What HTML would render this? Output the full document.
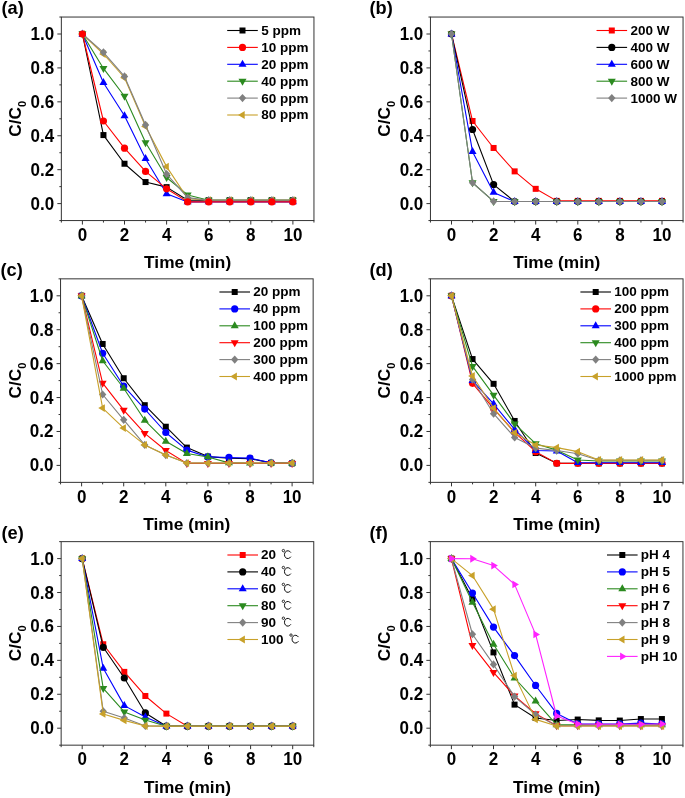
<!DOCTYPE html>
<html><head><meta charset="utf-8"><title>Figure</title>
<style>
html,body{margin:0;padding:0;background:#fff;}
body{width:685px;height:798px;overflow:hidden;}
svg{display:block;will-change:transform;}
text{font-family:"Liberation Sans", sans-serif;font-weight:bold;fill:#000;}
.tl{font-size:17px;}
.ti{font-size:17.3px;}
.lg{font-size:13.5px;}
.lab{font-size:19px;}
</style></head><body>
<svg width="685" height="798" viewBox="0 0 685 798">
<rect width="685" height="798" fill="#fff"/>
<rect x="61.35" y="17.04" width="252.6" height="203.52" fill="none" stroke="#333" stroke-width="1.0"/>
<path d="M61.35 220.56v2M82.4 220.56v4M103.45 220.56v2M124.5 220.56v4M145.55 220.56v2M166.6 220.56v4M187.65 220.56v2M208.7 220.56v4M229.75 220.56v2M250.8 220.56v4M271.85 220.56v2M292.9 220.56v4M313.95 220.56v2M61.35 220.56h-2M61.35 203.6h-4M61.35 186.64h-2M61.35 169.68h-4M61.35 152.72h-2M61.35 135.76h-4M61.35 118.8h-2M61.35 101.84h-4M61.35 84.88h-2M61.35 67.92h-4M61.35 50.96h-2M61.35 34h-4M61.35 17.04h-2" stroke="#333" stroke-width="1.0" fill="none"/>
<text transform="translate(82.4 240.76) scale(1 1.06)" text-anchor="middle" class="tl">0</text>
<text transform="translate(124.5 240.76) scale(1 1.06)" text-anchor="middle" class="tl">2</text>
<text transform="translate(166.6 240.76) scale(1 1.06)" text-anchor="middle" class="tl">4</text>
<text transform="translate(208.7 240.76) scale(1 1.06)" text-anchor="middle" class="tl">6</text>
<text transform="translate(250.8 240.76) scale(1 1.06)" text-anchor="middle" class="tl">8</text>
<text transform="translate(292.9 240.76) scale(1 1.06)" text-anchor="middle" class="tl">10</text>
<text transform="translate(54.15 209.6) scale(1 1.06)" text-anchor="end" class="tl">0.0</text>
<text transform="translate(54.15 175.68) scale(1 1.06)" text-anchor="end" class="tl">0.2</text>
<text transform="translate(54.15 141.76) scale(1 1.06)" text-anchor="end" class="tl">0.4</text>
<text transform="translate(54.15 107.84) scale(1 1.06)" text-anchor="end" class="tl">0.6</text>
<text transform="translate(54.15 73.92) scale(1 1.06)" text-anchor="end" class="tl">0.8</text>
<text transform="translate(54.15 40) scale(1 1.06)" text-anchor="end" class="tl">1.0</text>
<text x="187.65" y="267.96" text-anchor="middle" class="ti">Time (min)</text>
<text transform="translate(21.35 118.8) rotate(-90)" text-anchor="middle" class="ti">C/C<tspan font-size="11" dy="5">0</tspan></text>
<text transform="translate(1.5 13.8) scale(0.96 1)" class="lab">(a)</text>
<polyline points="82.4,34 103.45,135.08 124.5,163.74 145.55,182.06 166.6,187.15 187.65,200.21 208.7,200.21 229.75,200.21 250.8,200.21 271.85,200.21 292.9,200.21" fill="none" stroke="#000000" stroke-width="1.1" stroke-linejoin="round"/>
<rect x="79.4" y="31" width="6" height="6" fill="#000000"/>
<rect x="100.45" y="132.08" width="6" height="6" fill="#000000"/>
<rect x="121.5" y="160.74" width="6" height="6" fill="#000000"/>
<rect x="142.55" y="179.06" width="6" height="6" fill="#000000"/>
<rect x="163.6" y="184.15" width="6" height="6" fill="#000000"/>
<rect x="184.65" y="197.21" width="6" height="6" fill="#000000"/>
<rect x="205.7" y="197.21" width="6" height="6" fill="#000000"/>
<rect x="226.75" y="197.21" width="6" height="6" fill="#000000"/>
<rect x="247.8" y="197.21" width="6" height="6" fill="#000000"/>
<rect x="268.85" y="197.21" width="6" height="6" fill="#000000"/>
<rect x="289.9" y="197.21" width="6" height="6" fill="#000000"/>
<polyline points="82.4,34 103.45,82.68 124.5,115.75 145.55,158.66 166.6,193.76 187.65,201.9 208.7,201.9 229.75,201.9 250.8,201.9 271.85,201.9 292.9,201.9" fill="none" stroke="#0000ff" stroke-width="1.1" stroke-linejoin="round"/>
<polygon points="82.4,29.4 86.4,36.4 78.4,36.4" fill="#0000ff"/>
<polygon points="103.45,78.08 107.45,85.08 99.45,85.08" fill="#0000ff"/>
<polygon points="124.5,111.15 128.5,118.15 120.5,118.15" fill="#0000ff"/>
<polygon points="145.55,154.06 149.55,161.06 141.55,161.06" fill="#0000ff"/>
<polygon points="166.6,189.16 170.6,196.16 162.6,196.16" fill="#0000ff"/>
<polygon points="187.65,197.3 191.65,204.3 183.65,204.3" fill="#0000ff"/>
<polygon points="208.7,197.3 212.7,204.3 204.7,204.3" fill="#0000ff"/>
<polygon points="229.75,197.3 233.75,204.3 225.75,204.3" fill="#0000ff"/>
<polygon points="250.8,197.3 254.8,204.3 246.8,204.3" fill="#0000ff"/>
<polygon points="271.85,197.3 275.85,204.3 267.85,204.3" fill="#0000ff"/>
<polygon points="292.9,197.3 296.9,204.3 288.9,204.3" fill="#0000ff"/>
<polyline points="82.4,34 103.45,68.43 124.5,96.24 145.55,142.54 166.6,177.48 187.65,194.95 208.7,200.21 229.75,200.21 250.8,200.21 271.85,200.21 292.9,200.21" fill="none" stroke="#2b8a1f" stroke-width="1.1" stroke-linejoin="round"/>
<polygon points="82.4,38.6 86.4,31.6 78.4,31.6" fill="#2b8a1f"/>
<polygon points="103.45,73.03 107.45,66.03 99.45,66.03" fill="#2b8a1f"/>
<polygon points="124.5,100.84 128.5,93.84 120.5,93.84" fill="#2b8a1f"/>
<polygon points="145.55,147.14 149.55,140.14 141.55,140.14" fill="#2b8a1f"/>
<polygon points="166.6,182.08 170.6,175.08 162.6,175.08" fill="#2b8a1f"/>
<polygon points="187.65,199.55 191.65,192.55 183.65,192.55" fill="#2b8a1f"/>
<polygon points="208.7,204.81 212.7,197.81 204.7,197.81" fill="#2b8a1f"/>
<polygon points="229.75,204.81 233.75,197.81 225.75,197.81" fill="#2b8a1f"/>
<polygon points="250.8,204.81 254.8,197.81 246.8,197.81" fill="#2b8a1f"/>
<polygon points="271.85,204.81 275.85,197.81 267.85,197.81" fill="#2b8a1f"/>
<polygon points="292.9,204.81 296.9,197.81 288.9,197.81" fill="#2b8a1f"/>
<polyline points="82.4,34 103.45,54.01 124.5,77.76 145.55,126.43 166.6,166.63 187.65,198.51 208.7,200.21 229.75,200.21 250.8,200.21 271.85,200.21 292.9,200.21" fill="none" stroke="#c8a12a" stroke-width="1.1" stroke-linejoin="round"/>
<polygon points="78,34 84.6,30.1 84.6,37.9" fill="#c8a12a"/>
<polygon points="99.05,54.01 105.65,50.11 105.65,57.91" fill="#c8a12a"/>
<polygon points="120.1,77.76 126.7,73.86 126.7,81.66" fill="#c8a12a"/>
<polygon points="141.15,126.43 147.75,122.53 147.75,130.33" fill="#c8a12a"/>
<polygon points="162.2,166.63 168.8,162.73 168.8,170.53" fill="#c8a12a"/>
<polygon points="183.25,198.51 189.85,194.61 189.85,202.41" fill="#c8a12a"/>
<polygon points="204.3,200.21 210.9,196.31 210.9,204.11" fill="#c8a12a"/>
<polygon points="225.35,200.21 231.95,196.31 231.95,204.11" fill="#c8a12a"/>
<polygon points="246.4,200.21 253,196.31 253,204.11" fill="#c8a12a"/>
<polygon points="267.45,200.21 274.05,196.31 274.05,204.11" fill="#c8a12a"/>
<polygon points="288.5,200.21 295.1,196.31 295.1,204.11" fill="#c8a12a"/>
<polyline points="82.4,34 103.45,52.32 124.5,76.4 145.55,124.91 166.6,174.09 187.65,197.66 208.7,200.21 229.75,200.21 250.8,200.21 271.85,200.21 292.9,200.21" fill="none" stroke="#808080" stroke-width="1.1" stroke-linejoin="round"/>
<polygon points="82.4,29.9 86.1,34 82.4,38.1 78.7,34" fill="#808080"/>
<polygon points="103.45,48.22 107.15,52.32 103.45,56.42 99.75,52.32" fill="#808080"/>
<polygon points="124.5,72.3 128.2,76.4 124.5,80.5 120.8,76.4" fill="#808080"/>
<polygon points="145.55,120.81 149.25,124.91 145.55,129.01 141.85,124.91" fill="#808080"/>
<polygon points="166.6,169.99 170.3,174.09 166.6,178.19 162.9,174.09" fill="#808080"/>
<polygon points="187.65,193.56 191.35,197.66 187.65,201.76 183.95,197.66" fill="#808080"/>
<polygon points="208.7,196.11 212.4,200.21 208.7,204.31 205,200.21" fill="#808080"/>
<polygon points="229.75,196.11 233.45,200.21 229.75,204.31 226.05,200.21" fill="#808080"/>
<polygon points="250.8,196.11 254.5,200.21 250.8,204.31 247.1,200.21" fill="#808080"/>
<polygon points="271.85,196.11 275.55,200.21 271.85,204.31 268.15,200.21" fill="#808080"/>
<polygon points="292.9,196.11 296.6,200.21 292.9,204.31 289.2,200.21" fill="#808080"/>
<polyline points="82.4,34 103.45,121 124.5,148.14 145.55,171.38 166.6,188.84 187.65,201.9 208.7,201.9 229.75,201.9 250.8,201.9 271.85,201.9 292.9,201.9" fill="none" stroke="#ff0000" stroke-width="1.1" stroke-linejoin="round"/>
<circle cx="82.4" cy="34" r="3.6" fill="#ff0000"/>
<circle cx="103.45" cy="121" r="3.6" fill="#ff0000"/>
<circle cx="124.5" cy="148.14" r="3.6" fill="#ff0000"/>
<circle cx="145.55" cy="171.38" r="3.6" fill="#ff0000"/>
<circle cx="166.6" cy="188.84" r="3.6" fill="#ff0000"/>
<circle cx="187.65" cy="201.9" r="3.6" fill="#ff0000"/>
<circle cx="208.7" cy="201.9" r="3.6" fill="#ff0000"/>
<circle cx="229.75" cy="201.9" r="3.6" fill="#ff0000"/>
<circle cx="250.8" cy="201.9" r="3.6" fill="#ff0000"/>
<circle cx="271.85" cy="201.9" r="3.6" fill="#ff0000"/>
<circle cx="292.9" cy="201.9" r="3.6" fill="#ff0000"/>
<path d="M227.2 30.5h30.6" stroke="#000000" stroke-width="1.1"/>
<rect x="239.5" y="27.5" width="6" height="6" fill="#000000"/>
<text x="261.2" y="34.9" class="lg">5 ppm</text>
<path d="M227.2 47.4h30.6" stroke="#ff0000" stroke-width="1.1"/>
<circle cx="242.5" cy="47.4" r="3.6" fill="#ff0000"/>
<text x="261.2" y="51.8" class="lg">10 ppm</text>
<path d="M227.2 64.3h30.6" stroke="#0000ff" stroke-width="1.1"/>
<polygon points="242.5,59.7 246.5,66.7 238.5,66.7" fill="#0000ff"/>
<text x="261.2" y="68.7" class="lg">20 ppm</text>
<path d="M227.2 81.2h30.6" stroke="#2b8a1f" stroke-width="1.1"/>
<polygon points="242.5,85.8 246.5,78.8 238.5,78.8" fill="#2b8a1f"/>
<text x="261.2" y="85.6" class="lg">40 ppm</text>
<path d="M227.2 98.1h30.6" stroke="#808080" stroke-width="1.1"/>
<polygon points="242.5,94 246.2,98.1 242.5,102.2 238.8,98.1" fill="#808080"/>
<text x="261.2" y="102.5" class="lg">60 ppm</text>
<path d="M227.2 115h30.6" stroke="#c8a12a" stroke-width="1.1"/>
<polygon points="238.1,115 244.7,111.1 244.7,118.9" fill="#c8a12a"/>
<text x="261.2" y="119.4" class="lg">80 ppm</text>
<rect x="430.45" y="17.04" width="252.6" height="203.52" fill="none" stroke="#333" stroke-width="1.0"/>
<path d="M430.45 220.56v2M451.5 220.56v4M472.55 220.56v2M493.6 220.56v4M514.65 220.56v2M535.7 220.56v4M556.75 220.56v2M577.8 220.56v4M598.85 220.56v2M619.9 220.56v4M640.95 220.56v2M662 220.56v4M683.05 220.56v2M430.45 220.56h-2M430.45 203.6h-4M430.45 186.64h-2M430.45 169.68h-4M430.45 152.72h-2M430.45 135.76h-4M430.45 118.8h-2M430.45 101.84h-4M430.45 84.88h-2M430.45 67.92h-4M430.45 50.96h-2M430.45 34h-4M430.45 17.04h-2" stroke="#333" stroke-width="1.0" fill="none"/>
<text transform="translate(451.5 240.76) scale(1 1.06)" text-anchor="middle" class="tl">0</text>
<text transform="translate(493.6 240.76) scale(1 1.06)" text-anchor="middle" class="tl">2</text>
<text transform="translate(535.7 240.76) scale(1 1.06)" text-anchor="middle" class="tl">4</text>
<text transform="translate(577.8 240.76) scale(1 1.06)" text-anchor="middle" class="tl">6</text>
<text transform="translate(619.9 240.76) scale(1 1.06)" text-anchor="middle" class="tl">8</text>
<text transform="translate(662 240.76) scale(1 1.06)" text-anchor="middle" class="tl">10</text>
<text transform="translate(423.25 209.6) scale(1 1.06)" text-anchor="end" class="tl">0.0</text>
<text transform="translate(423.25 175.68) scale(1 1.06)" text-anchor="end" class="tl">0.2</text>
<text transform="translate(423.25 141.76) scale(1 1.06)" text-anchor="end" class="tl">0.4</text>
<text transform="translate(423.25 107.84) scale(1 1.06)" text-anchor="end" class="tl">0.6</text>
<text transform="translate(423.25 73.92) scale(1 1.06)" text-anchor="end" class="tl">0.8</text>
<text transform="translate(423.25 40) scale(1 1.06)" text-anchor="end" class="tl">1.0</text>
<text x="556.75" y="267.96" text-anchor="middle" class="ti">Time (min)</text>
<text transform="translate(390.45 118.8) rotate(-90)" text-anchor="middle" class="ti">C/C<tspan font-size="11" dy="5">0</tspan></text>
<text transform="translate(369.5 13.8) scale(0.96 1)" class="lab">(b)</text>
<polyline points="451.5,34 472.55,121 493.6,147.97 514.65,171.38 535.7,188.84 556.75,200.89 577.8,200.89 598.85,200.89 619.9,200.89 640.95,200.89 662,200.89" fill="none" stroke="#ff0000" stroke-width="1.1" stroke-linejoin="round"/>
<rect x="448.5" y="31" width="6" height="6" fill="#ff0000"/>
<rect x="469.55" y="118" width="6" height="6" fill="#ff0000"/>
<rect x="490.6" y="144.97" width="6" height="6" fill="#ff0000"/>
<rect x="511.65" y="168.38" width="6" height="6" fill="#ff0000"/>
<rect x="532.7" y="185.84" width="6" height="6" fill="#ff0000"/>
<rect x="553.75" y="197.89" width="6" height="6" fill="#ff0000"/>
<rect x="574.8" y="197.89" width="6" height="6" fill="#ff0000"/>
<rect x="595.85" y="197.89" width="6" height="6" fill="#ff0000"/>
<rect x="616.9" y="197.89" width="6" height="6" fill="#ff0000"/>
<rect x="637.95" y="197.89" width="6" height="6" fill="#ff0000"/>
<rect x="659" y="197.89" width="6" height="6" fill="#ff0000"/>
<polyline points="451.5,34 472.55,129.48 493.6,184.6 514.65,201.56 535.7,201.56 556.75,201.56 577.8,201.56 598.85,201.56 619.9,201.56 640.95,201.56 662,201.56" fill="none" stroke="#000000" stroke-width="1.1" stroke-linejoin="round"/>
<circle cx="451.5" cy="34" r="3.6" fill="#000000"/>
<circle cx="472.55" cy="129.48" r="3.6" fill="#000000"/>
<circle cx="493.6" cy="184.6" r="3.6" fill="#000000"/>
<circle cx="514.65" cy="201.56" r="3.6" fill="#000000"/>
<circle cx="535.7" cy="201.56" r="3.6" fill="#000000"/>
<circle cx="556.75" cy="201.56" r="3.6" fill="#000000"/>
<circle cx="577.8" cy="201.56" r="3.6" fill="#000000"/>
<circle cx="598.85" cy="201.56" r="3.6" fill="#000000"/>
<circle cx="619.9" cy="201.56" r="3.6" fill="#000000"/>
<circle cx="640.95" cy="201.56" r="3.6" fill="#000000"/>
<circle cx="662" cy="201.56" r="3.6" fill="#000000"/>
<polyline points="451.5,34 472.55,151.7 493.6,192.41 514.65,201.56 535.7,201.56 556.75,201.56 577.8,201.56 598.85,201.56 619.9,201.56 640.95,201.56 662,201.56" fill="none" stroke="#0000ff" stroke-width="1.1" stroke-linejoin="round"/>
<polygon points="451.5,29.4 455.5,36.4 447.5,36.4" fill="#0000ff"/>
<polygon points="472.55,147.1 476.55,154.1 468.55,154.1" fill="#0000ff"/>
<polygon points="493.6,187.81 497.6,194.81 489.6,194.81" fill="#0000ff"/>
<polygon points="514.65,196.96 518.65,203.96 510.65,203.96" fill="#0000ff"/>
<polygon points="535.7,196.96 539.7,203.96 531.7,203.96" fill="#0000ff"/>
<polygon points="556.75,196.96 560.75,203.96 552.75,203.96" fill="#0000ff"/>
<polygon points="577.8,196.96 581.8,203.96 573.8,203.96" fill="#0000ff"/>
<polygon points="598.85,196.96 602.85,203.96 594.85,203.96" fill="#0000ff"/>
<polygon points="619.9,196.96 623.9,203.96 615.9,203.96" fill="#0000ff"/>
<polygon points="640.95,196.96 644.95,203.96 636.95,203.96" fill="#0000ff"/>
<polygon points="662,196.96 666,203.96 658,203.96" fill="#0000ff"/>
<polyline points="451.5,34 472.55,182.74 493.6,201.4 514.65,201.56 535.7,201.56 556.75,201.56 577.8,201.56 598.85,201.56 619.9,201.56 640.95,201.56 662,201.56" fill="none" stroke="#2b8a1f" stroke-width="1.1" stroke-linejoin="round"/>
<polygon points="451.5,38.6 455.5,31.6 447.5,31.6" fill="#2b8a1f"/>
<polygon points="472.55,187.34 476.55,180.34 468.55,180.34" fill="#2b8a1f"/>
<polygon points="493.6,206 497.6,199 489.6,199" fill="#2b8a1f"/>
<polygon points="514.65,206.16 518.65,199.16 510.65,199.16" fill="#2b8a1f"/>
<polygon points="535.7,206.16 539.7,199.16 531.7,199.16" fill="#2b8a1f"/>
<polygon points="556.75,206.16 560.75,199.16 552.75,199.16" fill="#2b8a1f"/>
<polygon points="577.8,206.16 581.8,199.16 573.8,199.16" fill="#2b8a1f"/>
<polygon points="598.85,206.16 602.85,199.16 594.85,199.16" fill="#2b8a1f"/>
<polygon points="619.9,206.16 623.9,199.16 615.9,199.16" fill="#2b8a1f"/>
<polygon points="640.95,206.16 644.95,199.16 636.95,199.16" fill="#2b8a1f"/>
<polygon points="662,206.16 666,199.16 658,199.16" fill="#2b8a1f"/>
<polyline points="451.5,34 472.55,182.74 493.6,201.4 514.65,201.56 535.7,201.56 556.75,201.56 577.8,201.56 598.85,201.56 619.9,201.56 640.95,201.56 662,201.56" fill="none" stroke="#808080" stroke-width="1.1" stroke-linejoin="round"/>
<polygon points="451.5,29.9 455.2,34 451.5,38.1 447.8,34" fill="#808080"/>
<polygon points="472.55,178.64 476.25,182.74 472.55,186.84 468.85,182.74" fill="#808080"/>
<polygon points="493.6,197.3 497.3,201.4 493.6,205.5 489.9,201.4" fill="#808080"/>
<polygon points="514.65,197.46 518.35,201.56 514.65,205.66 510.95,201.56" fill="#808080"/>
<polygon points="535.7,197.46 539.4,201.56 535.7,205.66 532,201.56" fill="#808080"/>
<polygon points="556.75,197.46 560.45,201.56 556.75,205.66 553.05,201.56" fill="#808080"/>
<polygon points="577.8,197.46 581.5,201.56 577.8,205.66 574.1,201.56" fill="#808080"/>
<polygon points="598.85,197.46 602.55,201.56 598.85,205.66 595.15,201.56" fill="#808080"/>
<polygon points="619.9,197.46 623.6,201.56 619.9,205.66 616.2,201.56" fill="#808080"/>
<polygon points="640.95,197.46 644.65,201.56 640.95,205.66 637.25,201.56" fill="#808080"/>
<polygon points="662,197.46 665.7,201.56 662,205.66 658.3,201.56" fill="#808080"/>
<path d="M596.5 30.5h30.6" stroke="#ff0000" stroke-width="1.1"/>
<rect x="608.8" y="27.5" width="6" height="6" fill="#ff0000"/>
<text x="630.4" y="34.9" class="lg">200 W</text>
<path d="M596.5 47.4h30.6" stroke="#000000" stroke-width="1.1"/>
<circle cx="611.8" cy="47.4" r="3.6" fill="#000000"/>
<text x="630.4" y="51.8" class="lg">400 W</text>
<path d="M596.5 64.3h30.6" stroke="#0000ff" stroke-width="1.1"/>
<polygon points="611.8,59.7 615.8,66.7 607.8,66.7" fill="#0000ff"/>
<text x="630.4" y="68.7" class="lg">600 W</text>
<path d="M596.5 81.2h30.6" stroke="#2b8a1f" stroke-width="1.1"/>
<polygon points="611.8,85.8 615.8,78.8 607.8,78.8" fill="#2b8a1f"/>
<text x="630.4" y="85.6" class="lg">800 W</text>
<path d="M596.5 98.1h30.6" stroke="#808080" stroke-width="1.1"/>
<polygon points="611.8,94 615.5,98.1 611.8,102.2 608.1,98.1" fill="#808080"/>
<text x="630.4" y="102.5" class="lg">1000 W</text>
<rect x="60.55" y="278.84" width="252.6" height="203.52" fill="none" stroke="#333" stroke-width="1.0"/>
<path d="M60.55 482.36v2M81.6 482.36v4M102.65 482.36v2M123.7 482.36v4M144.75 482.36v2M165.8 482.36v4M186.85 482.36v2M207.9 482.36v4M228.95 482.36v2M250 482.36v4M271.05 482.36v2M292.1 482.36v4M313.15 482.36v2M60.55 482.36h-2M60.55 465.4h-4M60.55 448.44h-2M60.55 431.48h-4M60.55 414.52h-2M60.55 397.56h-4M60.55 380.6h-2M60.55 363.64h-4M60.55 346.68h-2M60.55 329.72h-4M60.55 312.76h-2M60.55 295.8h-4M60.55 278.84h-2" stroke="#333" stroke-width="1.0" fill="none"/>
<text transform="translate(81.6 502.56) scale(1 1.06)" text-anchor="middle" class="tl">0</text>
<text transform="translate(123.7 502.56) scale(1 1.06)" text-anchor="middle" class="tl">2</text>
<text transform="translate(165.8 502.56) scale(1 1.06)" text-anchor="middle" class="tl">4</text>
<text transform="translate(207.9 502.56) scale(1 1.06)" text-anchor="middle" class="tl">6</text>
<text transform="translate(250 502.56) scale(1 1.06)" text-anchor="middle" class="tl">8</text>
<text transform="translate(292.1 502.56) scale(1 1.06)" text-anchor="middle" class="tl">10</text>
<text transform="translate(53.35 471.4) scale(1 1.06)" text-anchor="end" class="tl">0.0</text>
<text transform="translate(53.35 437.48) scale(1 1.06)" text-anchor="end" class="tl">0.2</text>
<text transform="translate(53.35 403.56) scale(1 1.06)" text-anchor="end" class="tl">0.4</text>
<text transform="translate(53.35 369.64) scale(1 1.06)" text-anchor="end" class="tl">0.6</text>
<text transform="translate(53.35 335.72) scale(1 1.06)" text-anchor="end" class="tl">0.8</text>
<text transform="translate(53.35 301.8) scale(1 1.06)" text-anchor="end" class="tl">1.0</text>
<text x="186.85" y="529.76" text-anchor="middle" class="ti">Time (min)</text>
<text transform="translate(20.55 380.6) rotate(-90)" text-anchor="middle" class="ti">C/C<tspan font-size="11" dy="5">0</tspan></text>
<text transform="translate(0.5 276.3) scale(0.96 1)" class="lab">(c)</text>
<polyline points="81.6,295.8 102.65,343.97 123.7,378.23 144.75,405.19 165.8,426.73 186.85,447.59 207.9,456.58 228.95,458.28 250,458.62 271.05,462.86 292.1,463.36" fill="none" stroke="#000000" stroke-width="1.1" stroke-linejoin="round"/>
<rect x="78.6" y="292.8" width="6" height="6" fill="#000000"/>
<rect x="99.65" y="340.97" width="6" height="6" fill="#000000"/>
<rect x="120.7" y="375.23" width="6" height="6" fill="#000000"/>
<rect x="141.75" y="402.19" width="6" height="6" fill="#000000"/>
<rect x="162.8" y="423.73" width="6" height="6" fill="#000000"/>
<rect x="183.85" y="444.59" width="6" height="6" fill="#000000"/>
<rect x="204.9" y="453.58" width="6" height="6" fill="#000000"/>
<rect x="225.95" y="455.28" width="6" height="6" fill="#000000"/>
<rect x="247" y="455.62" width="6" height="6" fill="#000000"/>
<rect x="268.05" y="459.86" width="6" height="6" fill="#000000"/>
<rect x="289.1" y="460.36" width="6" height="6" fill="#000000"/>
<polyline points="81.6,295.8 102.65,353.29 123.7,386.2 144.75,409.09 165.8,432.5 186.85,450.14 207.9,456.92 228.95,457.43 250,458.11 271.05,462.86 292.1,463.36" fill="none" stroke="#0000ff" stroke-width="1.1" stroke-linejoin="round"/>
<circle cx="81.6" cy="295.8" r="3.6" fill="#0000ff"/>
<circle cx="102.65" cy="353.29" r="3.6" fill="#0000ff"/>
<circle cx="123.7" cy="386.2" r="3.6" fill="#0000ff"/>
<circle cx="144.75" cy="409.09" r="3.6" fill="#0000ff"/>
<circle cx="165.8" cy="432.5" r="3.6" fill="#0000ff"/>
<circle cx="186.85" cy="450.14" r="3.6" fill="#0000ff"/>
<circle cx="207.9" cy="456.92" r="3.6" fill="#0000ff"/>
<circle cx="228.95" cy="457.43" r="3.6" fill="#0000ff"/>
<circle cx="250" cy="458.11" r="3.6" fill="#0000ff"/>
<circle cx="271.05" cy="462.86" r="3.6" fill="#0000ff"/>
<circle cx="292.1" cy="463.36" r="3.6" fill="#0000ff"/>
<polyline points="81.6,295.8 102.65,360.76 123.7,388.23 144.75,420.29 165.8,441.32 186.85,453.53 207.9,456.92 228.95,462.86 250,463.2 271.05,463.2 292.1,463.36" fill="none" stroke="#2b8a1f" stroke-width="1.1" stroke-linejoin="round"/>
<polygon points="81.6,291.2 85.6,298.2 77.6,298.2" fill="#2b8a1f"/>
<polygon points="102.65,356.16 106.65,363.16 98.65,363.16" fill="#2b8a1f"/>
<polygon points="123.7,383.63 127.7,390.63 119.7,390.63" fill="#2b8a1f"/>
<polygon points="144.75,415.69 148.75,422.69 140.75,422.69" fill="#2b8a1f"/>
<polygon points="165.8,436.72 169.8,443.72 161.8,443.72" fill="#2b8a1f"/>
<polygon points="186.85,448.93 190.85,455.93 182.85,455.93" fill="#2b8a1f"/>
<polygon points="207.9,452.32 211.9,459.32 203.9,459.32" fill="#2b8a1f"/>
<polygon points="228.95,458.26 232.95,465.26 224.95,465.26" fill="#2b8a1f"/>
<polygon points="250,458.6 254,465.6 246,465.6" fill="#2b8a1f"/>
<polygon points="271.05,458.6 275.05,465.6 267.05,465.6" fill="#2b8a1f"/>
<polygon points="292.1,458.76 296.1,465.76 288.1,465.76" fill="#2b8a1f"/>
<polyline points="81.6,295.8 102.65,383.14 123.7,410.11 144.75,433.35 165.8,450.48 186.85,463.36 207.9,463.36 228.95,463.36 250,463.36 271.05,463.36 292.1,463.36" fill="none" stroke="#ff0000" stroke-width="1.1" stroke-linejoin="round"/>
<polygon points="81.6,300.4 85.6,293.4 77.6,293.4" fill="#ff0000"/>
<polygon points="102.65,387.74 106.65,380.74 98.65,380.74" fill="#ff0000"/>
<polygon points="123.7,414.71 127.7,407.71 119.7,407.71" fill="#ff0000"/>
<polygon points="144.75,437.95 148.75,430.95 140.75,430.95" fill="#ff0000"/>
<polygon points="165.8,455.08 169.8,448.08 161.8,448.08" fill="#ff0000"/>
<polygon points="186.85,467.96 190.85,460.96 182.85,460.96" fill="#ff0000"/>
<polygon points="207.9,467.96 211.9,460.96 203.9,460.96" fill="#ff0000"/>
<polygon points="228.95,467.96 232.95,460.96 224.95,460.96" fill="#ff0000"/>
<polygon points="250,467.96 254,460.96 246,460.96" fill="#ff0000"/>
<polygon points="271.05,467.96 275.05,460.96 267.05,460.96" fill="#ff0000"/>
<polygon points="292.1,467.96 296.1,460.96 288.1,460.96" fill="#ff0000"/>
<polyline points="81.6,295.8 102.65,394.51 123.7,419.78 144.75,444.88 165.8,455.05 186.85,463.03 207.9,463.03 228.95,463.03 250,463.03 271.05,463.03 292.1,463.03" fill="none" stroke="#808080" stroke-width="1.1" stroke-linejoin="round"/>
<polygon points="81.6,291.7 85.3,295.8 81.6,299.9 77.9,295.8" fill="#808080"/>
<polygon points="102.65,390.41 106.35,394.51 102.65,398.61 98.95,394.51" fill="#808080"/>
<polygon points="123.7,415.68 127.4,419.78 123.7,423.88 120,419.78" fill="#808080"/>
<polygon points="144.75,440.78 148.45,444.88 144.75,448.98 141.05,444.88" fill="#808080"/>
<polygon points="165.8,450.95 169.5,455.05 165.8,459.15 162.1,455.05" fill="#808080"/>
<polygon points="186.85,458.93 190.55,463.03 186.85,467.13 183.15,463.03" fill="#808080"/>
<polygon points="207.9,458.93 211.6,463.03 207.9,467.13 204.2,463.03" fill="#808080"/>
<polygon points="228.95,458.93 232.65,463.03 228.95,467.13 225.25,463.03" fill="#808080"/>
<polygon points="250,458.93 253.7,463.03 250,467.13 246.3,463.03" fill="#808080"/>
<polygon points="271.05,458.93 274.75,463.03 271.05,467.13 267.35,463.03" fill="#808080"/>
<polygon points="292.1,458.93 295.8,463.03 292.1,467.13 288.4,463.03" fill="#808080"/>
<polyline points="81.6,295.8 102.65,408.08 123.7,428.09 144.75,444.88 165.8,455.05 186.85,463.03 207.9,463.03 228.95,463.03 250,463.03 271.05,463.03 292.1,463.03" fill="none" stroke="#c8a12a" stroke-width="1.1" stroke-linejoin="round"/>
<polygon points="77.2,295.8 83.8,291.9 83.8,299.7" fill="#c8a12a"/>
<polygon points="98.25,408.08 104.85,404.18 104.85,411.98" fill="#c8a12a"/>
<polygon points="119.3,428.09 125.9,424.19 125.9,431.99" fill="#c8a12a"/>
<polygon points="140.35,444.88 146.95,440.98 146.95,448.78" fill="#c8a12a"/>
<polygon points="161.4,455.05 168,451.15 168,458.95" fill="#c8a12a"/>
<polygon points="182.45,463.03 189.05,459.13 189.05,466.93" fill="#c8a12a"/>
<polygon points="203.5,463.03 210.1,459.13 210.1,466.93" fill="#c8a12a"/>
<polygon points="224.55,463.03 231.15,459.13 231.15,466.93" fill="#c8a12a"/>
<polygon points="245.6,463.03 252.2,459.13 252.2,466.93" fill="#c8a12a"/>
<polygon points="266.65,463.03 273.25,459.13 273.25,466.93" fill="#c8a12a"/>
<polygon points="287.7,463.03 294.3,459.13 294.3,466.93" fill="#c8a12a"/>
<path d="M219.4 292h30.6" stroke="#000000" stroke-width="1.1"/>
<rect x="231.7" y="289" width="6" height="6" fill="#000000"/>
<text x="253.2" y="296.4" class="lg">20 ppm</text>
<path d="M219.4 308.9h30.6" stroke="#0000ff" stroke-width="1.1"/>
<circle cx="234.7" cy="308.9" r="3.6" fill="#0000ff"/>
<text x="253.2" y="313.3" class="lg">40 ppm</text>
<path d="M219.4 325.8h30.6" stroke="#2b8a1f" stroke-width="1.1"/>
<polygon points="234.7,321.2 238.7,328.2 230.7,328.2" fill="#2b8a1f"/>
<text x="253.2" y="330.2" class="lg">100 ppm</text>
<path d="M219.4 342.7h30.6" stroke="#ff0000" stroke-width="1.1"/>
<polygon points="234.7,347.3 238.7,340.3 230.7,340.3" fill="#ff0000"/>
<text x="253.2" y="347.1" class="lg">200 ppm</text>
<path d="M219.4 359.6h30.6" stroke="#808080" stroke-width="1.1"/>
<polygon points="234.7,355.5 238.4,359.6 234.7,363.7 231,359.6" fill="#808080"/>
<text x="253.2" y="364" class="lg">300 ppm</text>
<path d="M219.4 376.5h30.6" stroke="#c8a12a" stroke-width="1.1"/>
<polygon points="230.3,376.5 236.9,372.6 236.9,380.4" fill="#c8a12a"/>
<text x="253.2" y="380.9" class="lg">400 ppm</text>
<rect x="430.45" y="278.84" width="252.6" height="203.52" fill="none" stroke="#333" stroke-width="1.0"/>
<path d="M430.45 482.36v2M451.5 482.36v4M472.55 482.36v2M493.6 482.36v4M514.65 482.36v2M535.7 482.36v4M556.75 482.36v2M577.8 482.36v4M598.85 482.36v2M619.9 482.36v4M640.95 482.36v2M662 482.36v4M683.05 482.36v2M430.45 482.36h-2M430.45 465.4h-4M430.45 448.44h-2M430.45 431.48h-4M430.45 414.52h-2M430.45 397.56h-4M430.45 380.6h-2M430.45 363.64h-4M430.45 346.68h-2M430.45 329.72h-4M430.45 312.76h-2M430.45 295.8h-4M430.45 278.84h-2" stroke="#333" stroke-width="1.0" fill="none"/>
<text transform="translate(451.5 502.56) scale(1 1.06)" text-anchor="middle" class="tl">0</text>
<text transform="translate(493.6 502.56) scale(1 1.06)" text-anchor="middle" class="tl">2</text>
<text transform="translate(535.7 502.56) scale(1 1.06)" text-anchor="middle" class="tl">4</text>
<text transform="translate(577.8 502.56) scale(1 1.06)" text-anchor="middle" class="tl">6</text>
<text transform="translate(619.9 502.56) scale(1 1.06)" text-anchor="middle" class="tl">8</text>
<text transform="translate(662 502.56) scale(1 1.06)" text-anchor="middle" class="tl">10</text>
<text transform="translate(423.25 471.4) scale(1 1.06)" text-anchor="end" class="tl">0.0</text>
<text transform="translate(423.25 437.48) scale(1 1.06)" text-anchor="end" class="tl">0.2</text>
<text transform="translate(423.25 403.56) scale(1 1.06)" text-anchor="end" class="tl">0.4</text>
<text transform="translate(423.25 369.64) scale(1 1.06)" text-anchor="end" class="tl">0.6</text>
<text transform="translate(423.25 335.72) scale(1 1.06)" text-anchor="end" class="tl">0.8</text>
<text transform="translate(423.25 301.8) scale(1 1.06)" text-anchor="end" class="tl">1.0</text>
<text x="556.75" y="529.76" text-anchor="middle" class="ti">Time (min)</text>
<text transform="translate(390.45 380.6) rotate(-90)" text-anchor="middle" class="ti">C/C<tspan font-size="11" dy="5">0</tspan></text>
<text transform="translate(369.5 276.3) scale(0.96 1)" class="lab">(d)</text>
<polyline points="451.5,295.8 472.55,359.06 493.6,383.82 514.65,420.96 535.7,453.02 556.75,463.36 577.8,463.36 598.85,463.36 619.9,463.36 640.95,463.36 662,463.36" fill="none" stroke="#000000" stroke-width="1.1" stroke-linejoin="round"/>
<rect x="448.5" y="292.8" width="6" height="6" fill="#000000"/>
<rect x="469.55" y="356.06" width="6" height="6" fill="#000000"/>
<rect x="490.6" y="380.82" width="6" height="6" fill="#000000"/>
<rect x="511.65" y="417.96" width="6" height="6" fill="#000000"/>
<rect x="532.7" y="450.02" width="6" height="6" fill="#000000"/>
<rect x="553.75" y="460.36" width="6" height="6" fill="#000000"/>
<rect x="574.8" y="460.36" width="6" height="6" fill="#000000"/>
<rect x="595.85" y="460.36" width="6" height="6" fill="#000000"/>
<rect x="616.9" y="460.36" width="6" height="6" fill="#000000"/>
<rect x="637.95" y="460.36" width="6" height="6" fill="#000000"/>
<rect x="659" y="460.36" width="6" height="6" fill="#000000"/>
<polyline points="451.5,295.8 472.55,383.31 493.6,408.58 514.65,432.33 535.7,451.66 556.75,463.36 577.8,463.36 598.85,463.36 619.9,463.36 640.95,463.36 662,463.36" fill="none" stroke="#ff0000" stroke-width="1.1" stroke-linejoin="round"/>
<circle cx="451.5" cy="295.8" r="3.6" fill="#ff0000"/>
<circle cx="472.55" cy="383.31" r="3.6" fill="#ff0000"/>
<circle cx="493.6" cy="408.58" r="3.6" fill="#ff0000"/>
<circle cx="514.65" cy="432.33" r="3.6" fill="#ff0000"/>
<circle cx="535.7" cy="451.66" r="3.6" fill="#ff0000"/>
<circle cx="556.75" cy="463.36" r="3.6" fill="#ff0000"/>
<circle cx="577.8" cy="463.36" r="3.6" fill="#ff0000"/>
<circle cx="598.85" cy="463.36" r="3.6" fill="#ff0000"/>
<circle cx="619.9" cy="463.36" r="3.6" fill="#ff0000"/>
<circle cx="640.95" cy="463.36" r="3.6" fill="#ff0000"/>
<circle cx="662" cy="463.36" r="3.6" fill="#ff0000"/>
<polyline points="451.5,295.8 472.55,380.6 493.6,403.84 514.65,429.44 535.7,450.48 556.75,450.98 577.8,462.69 598.85,462.69 619.9,462.69 640.95,462.69 662,462.69" fill="none" stroke="#0000ff" stroke-width="1.1" stroke-linejoin="round"/>
<polygon points="451.5,291.2 455.5,298.2 447.5,298.2" fill="#0000ff"/>
<polygon points="472.55,376 476.55,383 468.55,383" fill="#0000ff"/>
<polygon points="493.6,399.24 497.6,406.24 489.6,406.24" fill="#0000ff"/>
<polygon points="514.65,424.84 518.65,431.84 510.65,431.84" fill="#0000ff"/>
<polygon points="535.7,445.88 539.7,452.88 531.7,452.88" fill="#0000ff"/>
<polygon points="556.75,446.38 560.75,453.38 552.75,453.38" fill="#0000ff"/>
<polygon points="577.8,458.09 581.8,465.09 573.8,465.09" fill="#0000ff"/>
<polygon points="598.85,458.09 602.85,465.09 594.85,465.09" fill="#0000ff"/>
<polygon points="619.9,458.09 623.9,465.09 615.9,465.09" fill="#0000ff"/>
<polygon points="640.95,458.09 644.95,465.09 636.95,465.09" fill="#0000ff"/>
<polygon points="662,458.09 666,465.09 658,465.09" fill="#0000ff"/>
<polyline points="451.5,295.8 472.55,366.35 493.6,395.19 514.65,423.85 535.7,443.69 556.75,450.14 577.8,459.97 598.85,460.99 619.9,460.99 640.95,460.99 662,460.99" fill="none" stroke="#2b8a1f" stroke-width="1.1" stroke-linejoin="round"/>
<polygon points="451.5,300.4 455.5,293.4 447.5,293.4" fill="#2b8a1f"/>
<polygon points="472.55,370.95 476.55,363.95 468.55,363.95" fill="#2b8a1f"/>
<polygon points="493.6,399.79 497.6,392.79 489.6,392.79" fill="#2b8a1f"/>
<polygon points="514.65,428.45 518.65,421.45 510.65,421.45" fill="#2b8a1f"/>
<polygon points="535.7,448.29 539.7,441.29 531.7,441.29" fill="#2b8a1f"/>
<polygon points="556.75,454.74 560.75,447.74 552.75,447.74" fill="#2b8a1f"/>
<polygon points="577.8,464.57 581.8,457.57 573.8,457.57" fill="#2b8a1f"/>
<polygon points="598.85,465.59 602.85,458.59 594.85,458.59" fill="#2b8a1f"/>
<polygon points="619.9,465.59 623.9,458.59 615.9,458.59" fill="#2b8a1f"/>
<polygon points="640.95,465.59 644.95,458.59 636.95,458.59" fill="#2b8a1f"/>
<polygon points="662,465.59 666,458.59 658,458.59" fill="#2b8a1f"/>
<polyline points="451.5,295.8 472.55,379.58 493.6,413.67 514.65,437.42 535.7,448.1 556.75,450.48 577.8,453.7 598.85,460.31 619.9,460.31 640.95,460.31 662,460.31" fill="none" stroke="#808080" stroke-width="1.1" stroke-linejoin="round"/>
<polygon points="451.5,291.7 455.2,295.8 451.5,299.9 447.8,295.8" fill="#808080"/>
<polygon points="472.55,375.48 476.25,379.58 472.55,383.68 468.85,379.58" fill="#808080"/>
<polygon points="493.6,409.57 497.3,413.67 493.6,417.77 489.9,413.67" fill="#808080"/>
<polygon points="514.65,433.32 518.35,437.42 514.65,441.52 510.95,437.42" fill="#808080"/>
<polygon points="535.7,444 539.4,448.1 535.7,452.2 532,448.1" fill="#808080"/>
<polygon points="556.75,446.38 560.45,450.48 556.75,454.58 553.05,450.48" fill="#808080"/>
<polygon points="577.8,449.6 581.5,453.7 577.8,457.8 574.1,453.7" fill="#808080"/>
<polygon points="598.85,456.21 602.55,460.31 598.85,464.41 595.15,460.31" fill="#808080"/>
<polygon points="619.9,456.21 623.6,460.31 619.9,464.41 616.2,460.31" fill="#808080"/>
<polygon points="640.95,456.21 644.65,460.31 640.95,464.41 637.25,460.31" fill="#808080"/>
<polygon points="662,456.21 665.7,460.31 662,464.41 658.3,460.31" fill="#808080"/>
<polyline points="451.5,295.8 472.55,376.02 493.6,408.08 514.65,432.84 535.7,445.05 556.75,447.59 577.8,451.66 598.85,459.97 619.9,459.97 640.95,459.97 662,459.97" fill="none" stroke="#c8a12a" stroke-width="1.1" stroke-linejoin="round"/>
<polygon points="447.1,295.8 453.7,291.9 453.7,299.7" fill="#c8a12a"/>
<polygon points="468.15,376.02 474.75,372.12 474.75,379.92" fill="#c8a12a"/>
<polygon points="489.2,408.08 495.8,404.18 495.8,411.98" fill="#c8a12a"/>
<polygon points="510.25,432.84 516.85,428.94 516.85,436.74" fill="#c8a12a"/>
<polygon points="531.3,445.05 537.9,441.15 537.9,448.95" fill="#c8a12a"/>
<polygon points="552.35,447.59 558.95,443.69 558.95,451.49" fill="#c8a12a"/>
<polygon points="573.4,451.66 580,447.76 580,455.56" fill="#c8a12a"/>
<polygon points="594.45,459.97 601.05,456.07 601.05,463.87" fill="#c8a12a"/>
<polygon points="615.5,459.97 622.1,456.07 622.1,463.87" fill="#c8a12a"/>
<polygon points="636.55,459.97 643.15,456.07 643.15,463.87" fill="#c8a12a"/>
<polygon points="657.6,459.97 664.2,456.07 664.2,463.87" fill="#c8a12a"/>
<path d="M580.4 292h30.6" stroke="#000000" stroke-width="1.1"/>
<rect x="592.7" y="289" width="6" height="6" fill="#000000"/>
<text x="614.2" y="296.4" class="lg">100 ppm</text>
<path d="M580.4 308.9h30.6" stroke="#ff0000" stroke-width="1.1"/>
<circle cx="595.7" cy="308.9" r="3.6" fill="#ff0000"/>
<text x="614.2" y="313.3" class="lg">200 ppm</text>
<path d="M580.4 325.8h30.6" stroke="#0000ff" stroke-width="1.1"/>
<polygon points="595.7,321.2 599.7,328.2 591.7,328.2" fill="#0000ff"/>
<text x="614.2" y="330.2" class="lg">300 ppm</text>
<path d="M580.4 342.7h30.6" stroke="#2b8a1f" stroke-width="1.1"/>
<polygon points="595.7,347.3 599.7,340.3 591.7,340.3" fill="#2b8a1f"/>
<text x="614.2" y="347.1" class="lg">400 ppm</text>
<path d="M580.4 359.6h30.6" stroke="#808080" stroke-width="1.1"/>
<polygon points="595.7,355.5 599.4,359.6 595.7,363.7 592,359.6" fill="#808080"/>
<text x="614.2" y="364" class="lg">500 ppm</text>
<path d="M580.4 376.5h30.6" stroke="#c8a12a" stroke-width="1.1"/>
<polygon points="591.3,376.5 597.9,372.6 597.9,380.4" fill="#c8a12a"/>
<text x="614.2" y="380.9" class="lg">1000 ppm</text>
<rect x="61.15" y="541.64" width="252.6" height="203.52" fill="none" stroke="#333" stroke-width="1.0"/>
<path d="M61.15 745.16v2M82.2 745.16v4M103.25 745.16v2M124.3 745.16v4M145.35 745.16v2M166.4 745.16v4M187.45 745.16v2M208.5 745.16v4M229.55 745.16v2M250.6 745.16v4M271.65 745.16v2M292.7 745.16v4M313.75 745.16v2M61.15 745.16h-2M61.15 728.2h-4M61.15 711.24h-2M61.15 694.28h-4M61.15 677.32h-2M61.15 660.36h-4M61.15 643.4h-2M61.15 626.44h-4M61.15 609.48h-2M61.15 592.52h-4M61.15 575.56h-2M61.15 558.6h-4M61.15 541.64h-2" stroke="#333" stroke-width="1.0" fill="none"/>
<text transform="translate(82.2 765.36) scale(1 1.06)" text-anchor="middle" class="tl">0</text>
<text transform="translate(124.3 765.36) scale(1 1.06)" text-anchor="middle" class="tl">2</text>
<text transform="translate(166.4 765.36) scale(1 1.06)" text-anchor="middle" class="tl">4</text>
<text transform="translate(208.5 765.36) scale(1 1.06)" text-anchor="middle" class="tl">6</text>
<text transform="translate(250.6 765.36) scale(1 1.06)" text-anchor="middle" class="tl">8</text>
<text transform="translate(292.7 765.36) scale(1 1.06)" text-anchor="middle" class="tl">10</text>
<text transform="translate(53.95 734.2) scale(1 1.06)" text-anchor="end" class="tl">0.0</text>
<text transform="translate(53.95 700.28) scale(1 1.06)" text-anchor="end" class="tl">0.2</text>
<text transform="translate(53.95 666.36) scale(1 1.06)" text-anchor="end" class="tl">0.4</text>
<text transform="translate(53.95 632.44) scale(1 1.06)" text-anchor="end" class="tl">0.6</text>
<text transform="translate(53.95 598.52) scale(1 1.06)" text-anchor="end" class="tl">0.8</text>
<text transform="translate(53.95 564.6) scale(1 1.06)" text-anchor="end" class="tl">1.0</text>
<text x="187.45" y="792.56" text-anchor="middle" class="ti">Time (min)</text>
<text transform="translate(21.15 643.4) rotate(-90)" text-anchor="middle" class="ti">C/C<tspan font-size="11" dy="5">0</tspan></text>
<text transform="translate(1.5 539) scale(0.96 1)" class="lab">(e)</text>
<polyline points="82.2,558.6 103.25,644.25 124.3,671.89 145.35,695.98 166.4,713.61 187.45,726.16 208.5,726.16 229.55,726.16 250.6,726.16 271.65,726.16 292.7,726.16" fill="none" stroke="#ff0000" stroke-width="1.1" stroke-linejoin="round"/>
<rect x="79.2" y="555.6" width="6" height="6" fill="#ff0000"/>
<rect x="100.25" y="641.25" width="6" height="6" fill="#ff0000"/>
<rect x="121.3" y="668.89" width="6" height="6" fill="#ff0000"/>
<rect x="142.35" y="692.98" width="6" height="6" fill="#ff0000"/>
<rect x="163.4" y="710.61" width="6" height="6" fill="#ff0000"/>
<rect x="184.45" y="723.16" width="6" height="6" fill="#ff0000"/>
<rect x="205.5" y="723.16" width="6" height="6" fill="#ff0000"/>
<rect x="226.55" y="723.16" width="6" height="6" fill="#ff0000"/>
<rect x="247.6" y="723.16" width="6" height="6" fill="#ff0000"/>
<rect x="268.65" y="723.16" width="6" height="6" fill="#ff0000"/>
<rect x="289.7" y="723.16" width="6" height="6" fill="#ff0000"/>
<polyline points="82.2,558.6 103.25,647.3 124.3,678 145.35,712.94 166.4,726.16 187.45,726.16 208.5,726.16 229.55,726.16 250.6,726.16 271.65,726.16 292.7,726.16" fill="none" stroke="#000000" stroke-width="1.1" stroke-linejoin="round"/>
<circle cx="82.2" cy="558.6" r="3.6" fill="#000000"/>
<circle cx="103.25" cy="647.3" r="3.6" fill="#000000"/>
<circle cx="124.3" cy="678" r="3.6" fill="#000000"/>
<circle cx="145.35" cy="712.94" r="3.6" fill="#000000"/>
<circle cx="166.4" cy="726.16" r="3.6" fill="#000000"/>
<circle cx="187.45" cy="726.16" r="3.6" fill="#000000"/>
<circle cx="208.5" cy="726.16" r="3.6" fill="#000000"/>
<circle cx="229.55" cy="726.16" r="3.6" fill="#000000"/>
<circle cx="250.6" cy="726.16" r="3.6" fill="#000000"/>
<circle cx="271.65" cy="726.16" r="3.6" fill="#000000"/>
<circle cx="292.7" cy="726.16" r="3.6" fill="#000000"/>
<polyline points="82.2,558.6 103.25,668.33 124.3,705.64 145.35,717.01 166.4,726.16 187.45,726.16 208.5,726.16 229.55,726.16 250.6,726.16 271.65,726.16 292.7,726.16" fill="none" stroke="#0000ff" stroke-width="1.1" stroke-linejoin="round"/>
<polygon points="82.2,554 86.2,561 78.2,561" fill="#0000ff"/>
<polygon points="103.25,663.73 107.25,670.73 99.25,670.73" fill="#0000ff"/>
<polygon points="124.3,701.04 128.3,708.04 120.3,708.04" fill="#0000ff"/>
<polygon points="145.35,712.41 149.35,719.41 141.35,719.41" fill="#0000ff"/>
<polygon points="166.4,721.56 170.4,728.56 162.4,728.56" fill="#0000ff"/>
<polygon points="187.45,721.56 191.45,728.56 183.45,728.56" fill="#0000ff"/>
<polygon points="208.5,721.56 212.5,728.56 204.5,728.56" fill="#0000ff"/>
<polygon points="229.55,721.56 233.55,728.56 225.55,728.56" fill="#0000ff"/>
<polygon points="250.6,721.56 254.6,728.56 246.6,728.56" fill="#0000ff"/>
<polygon points="271.65,721.56 275.65,728.56 267.65,728.56" fill="#0000ff"/>
<polygon points="292.7,721.56 296.7,728.56 288.7,728.56" fill="#0000ff"/>
<polyline points="82.2,558.6 103.25,688.34 124.3,711.92 145.35,720.06 166.4,726.16 187.45,726.16 208.5,726.16 229.55,726.16 250.6,726.16 271.65,726.16 292.7,726.16" fill="none" stroke="#2b8a1f" stroke-width="1.1" stroke-linejoin="round"/>
<polygon points="82.2,563.2 86.2,556.2 78.2,556.2" fill="#2b8a1f"/>
<polygon points="103.25,692.94 107.25,685.94 99.25,685.94" fill="#2b8a1f"/>
<polygon points="124.3,716.52 128.3,709.52 120.3,709.52" fill="#2b8a1f"/>
<polygon points="145.35,724.66 149.35,717.66 141.35,717.66" fill="#2b8a1f"/>
<polygon points="166.4,730.76 170.4,723.76 162.4,723.76" fill="#2b8a1f"/>
<polygon points="187.45,730.76 191.45,723.76 183.45,723.76" fill="#2b8a1f"/>
<polygon points="208.5,730.76 212.5,723.76 204.5,723.76" fill="#2b8a1f"/>
<polygon points="229.55,730.76 233.55,723.76 225.55,723.76" fill="#2b8a1f"/>
<polygon points="250.6,730.76 254.6,723.76 246.6,723.76" fill="#2b8a1f"/>
<polygon points="271.65,730.76 275.65,723.76 267.65,723.76" fill="#2b8a1f"/>
<polygon points="292.7,730.76 296.7,723.76 288.7,723.76" fill="#2b8a1f"/>
<polyline points="82.2,558.6 103.25,711.24 124.3,718.02 145.35,726 166.4,726.16 187.45,726.16 208.5,726.16 229.55,726.16 250.6,726.16 271.65,726.16 292.7,726.16" fill="none" stroke="#808080" stroke-width="1.1" stroke-linejoin="round"/>
<polygon points="82.2,554.5 85.9,558.6 82.2,562.7 78.5,558.6" fill="#808080"/>
<polygon points="103.25,707.14 106.95,711.24 103.25,715.34 99.55,711.24" fill="#808080"/>
<polygon points="124.3,713.92 128,718.02 124.3,722.12 120.6,718.02" fill="#808080"/>
<polygon points="145.35,721.9 149.05,726 145.35,730.1 141.65,726" fill="#808080"/>
<polygon points="166.4,722.06 170.1,726.16 166.4,730.26 162.7,726.16" fill="#808080"/>
<polygon points="187.45,722.06 191.15,726.16 187.45,730.26 183.75,726.16" fill="#808080"/>
<polygon points="208.5,722.06 212.2,726.16 208.5,730.26 204.8,726.16" fill="#808080"/>
<polygon points="229.55,722.06 233.25,726.16 229.55,730.26 225.85,726.16" fill="#808080"/>
<polygon points="250.6,722.06 254.3,726.16 250.6,730.26 246.9,726.16" fill="#808080"/>
<polygon points="271.65,722.06 275.35,726.16 271.65,730.26 267.95,726.16" fill="#808080"/>
<polygon points="292.7,722.06 296.4,726.16 292.7,730.26 289,726.16" fill="#808080"/>
<polyline points="82.2,558.6 103.25,713.95 124.3,720.4 145.35,726 166.4,726.16 187.45,726.16 208.5,726.16 229.55,726.16 250.6,726.16 271.65,726.16 292.7,726.16" fill="none" stroke="#c8a12a" stroke-width="1.1" stroke-linejoin="round"/>
<polygon points="77.8,558.6 84.4,554.7 84.4,562.5" fill="#c8a12a"/>
<polygon points="98.85,713.95 105.45,710.05 105.45,717.85" fill="#c8a12a"/>
<polygon points="119.9,720.4 126.5,716.5 126.5,724.3" fill="#c8a12a"/>
<polygon points="140.95,726 147.55,722.1 147.55,729.9" fill="#c8a12a"/>
<polygon points="162,726.16 168.6,722.26 168.6,730.06" fill="#c8a12a"/>
<polygon points="183.05,726.16 189.65,722.26 189.65,730.06" fill="#c8a12a"/>
<polygon points="204.1,726.16 210.7,722.26 210.7,730.06" fill="#c8a12a"/>
<polygon points="225.15,726.16 231.75,722.26 231.75,730.06" fill="#c8a12a"/>
<polygon points="246.2,726.16 252.8,722.26 252.8,730.06" fill="#c8a12a"/>
<polygon points="267.25,726.16 273.85,722.26 273.85,730.06" fill="#c8a12a"/>
<polygon points="288.3,726.16 294.9,722.26 294.9,730.06" fill="#c8a12a"/>
<path d="M227.4 555h30.6" stroke="#ff0000" stroke-width="1.1"/>
<rect x="239.7" y="552" width="6" height="6" fill="#ff0000"/>
<text x="261" y="559.4" class="lg">20</text>
<circle cx="283.4" cy="550.6" r="1.2" fill="none" stroke="#000" stroke-width="0.8"/><path d="M290.66 552.27 A3.45 3.95 0 1 0 290.66 557.03" fill="none" stroke="#000" stroke-width="0.95" stroke-linecap="round"/>
<path d="M227.4 571.9h30.6" stroke="#000000" stroke-width="1.1"/>
<circle cx="242.7" cy="571.9" r="3.6" fill="#000000"/>
<text x="261" y="576.3" class="lg">40</text>
<circle cx="283.4" cy="567.5" r="1.2" fill="none" stroke="#000" stroke-width="0.8"/><path d="M290.66 569.17 A3.45 3.95 0 1 0 290.66 573.93" fill="none" stroke="#000" stroke-width="0.95" stroke-linecap="round"/>
<path d="M227.4 588.8h30.6" stroke="#0000ff" stroke-width="1.1"/>
<polygon points="242.7,584.2 246.7,591.2 238.7,591.2" fill="#0000ff"/>
<text x="261" y="593.2" class="lg">60</text>
<circle cx="283.4" cy="584.4" r="1.2" fill="none" stroke="#000" stroke-width="0.8"/><path d="M290.66 586.07 A3.45 3.95 0 1 0 290.66 590.83" fill="none" stroke="#000" stroke-width="0.95" stroke-linecap="round"/>
<path d="M227.4 605.7h30.6" stroke="#2b8a1f" stroke-width="1.1"/>
<polygon points="242.7,610.3 246.7,603.3 238.7,603.3" fill="#2b8a1f"/>
<text x="261" y="610.1" class="lg">80</text>
<circle cx="283.4" cy="601.3" r="1.2" fill="none" stroke="#000" stroke-width="0.8"/><path d="M290.66 602.97 A3.45 3.95 0 1 0 290.66 607.73" fill="none" stroke="#000" stroke-width="0.95" stroke-linecap="round"/>
<path d="M227.4 622.6h30.6" stroke="#808080" stroke-width="1.1"/>
<polygon points="242.7,618.5 246.4,622.6 242.7,626.7 239,622.6" fill="#808080"/>
<text x="261" y="627" class="lg">90</text>
<circle cx="283.4" cy="618.2" r="1.2" fill="none" stroke="#000" stroke-width="0.8"/><path d="M290.66 619.87 A3.45 3.95 0 1 0 290.66 624.63" fill="none" stroke="#000" stroke-width="0.95" stroke-linecap="round"/>
<path d="M227.4 639.5h30.6" stroke="#c8a12a" stroke-width="1.1"/>
<polygon points="238.3,639.5 244.9,635.6 244.9,643.4" fill="#c8a12a"/>
<text x="261" y="643.9" class="lg">100</text>
<circle cx="291" cy="635.1" r="1.2" fill="none" stroke="#000" stroke-width="0.8"/><path d="M298.26 636.77 A3.45 3.95 0 1 0 298.26 641.53" fill="none" stroke="#000" stroke-width="0.95" stroke-linecap="round"/>
<rect x="430.35" y="541.64" width="252.6" height="203.52" fill="none" stroke="#333" stroke-width="1.0"/>
<path d="M430.35 745.16v2M451.4 745.16v4M472.45 745.16v2M493.5 745.16v4M514.55 745.16v2M535.6 745.16v4M556.65 745.16v2M577.7 745.16v4M598.75 745.16v2M619.8 745.16v4M640.85 745.16v2M661.9 745.16v4M682.95 745.16v2M430.35 745.16h-2M430.35 728.2h-4M430.35 711.24h-2M430.35 694.28h-4M430.35 677.32h-2M430.35 660.36h-4M430.35 643.4h-2M430.35 626.44h-4M430.35 609.48h-2M430.35 592.52h-4M430.35 575.56h-2M430.35 558.6h-4M430.35 541.64h-2" stroke="#333" stroke-width="1.0" fill="none"/>
<text transform="translate(451.4 765.36) scale(1 1.06)" text-anchor="middle" class="tl">0</text>
<text transform="translate(493.5 765.36) scale(1 1.06)" text-anchor="middle" class="tl">2</text>
<text transform="translate(535.6 765.36) scale(1 1.06)" text-anchor="middle" class="tl">4</text>
<text transform="translate(577.7 765.36) scale(1 1.06)" text-anchor="middle" class="tl">6</text>
<text transform="translate(619.8 765.36) scale(1 1.06)" text-anchor="middle" class="tl">8</text>
<text transform="translate(661.9 765.36) scale(1 1.06)" text-anchor="middle" class="tl">10</text>
<text transform="translate(423.15 734.2) scale(1 1.06)" text-anchor="end" class="tl">0.0</text>
<text transform="translate(423.15 700.28) scale(1 1.06)" text-anchor="end" class="tl">0.2</text>
<text transform="translate(423.15 666.36) scale(1 1.06)" text-anchor="end" class="tl">0.4</text>
<text transform="translate(423.15 632.44) scale(1 1.06)" text-anchor="end" class="tl">0.6</text>
<text transform="translate(423.15 598.52) scale(1 1.06)" text-anchor="end" class="tl">0.8</text>
<text transform="translate(423.15 564.6) scale(1 1.06)" text-anchor="end" class="tl">1.0</text>
<text x="556.65" y="792.56" text-anchor="middle" class="ti">Time (min)</text>
<text transform="translate(390.35 643.4) rotate(-90)" text-anchor="middle" class="ti">C/C<tspan font-size="11" dy="5">0</tspan></text>
<text transform="translate(369.5 539) scale(0.96 1)" class="lab">(f)</text>
<polyline points="451.4,558.6 472.45,598.96 493.5,652.39 514.55,704.63 535.6,718.02 556.65,720.57 577.7,719.55 598.75,720.4 619.8,720.57 640.85,719.04 661.9,719.04" fill="none" stroke="#000000" stroke-width="1.1" stroke-linejoin="round"/>
<rect x="448.4" y="555.6" width="6" height="6" fill="#000000"/>
<rect x="469.45" y="595.96" width="6" height="6" fill="#000000"/>
<rect x="490.5" y="649.39" width="6" height="6" fill="#000000"/>
<rect x="511.55" y="701.63" width="6" height="6" fill="#000000"/>
<rect x="532.6" y="715.02" width="6" height="6" fill="#000000"/>
<rect x="553.65" y="717.57" width="6" height="6" fill="#000000"/>
<rect x="574.7" y="716.55" width="6" height="6" fill="#000000"/>
<rect x="595.75" y="717.4" width="6" height="6" fill="#000000"/>
<rect x="616.8" y="717.57" width="6" height="6" fill="#000000"/>
<rect x="637.85" y="716.04" width="6" height="6" fill="#000000"/>
<rect x="658.9" y="716.04" width="6" height="6" fill="#000000"/>
<polyline points="451.4,558.6 472.45,593.03 493.5,627.12 514.55,655.61 535.6,685.46 556.65,713.44 577.7,723.96 598.75,723.96 619.8,723.96 640.85,723.11 661.9,723.96" fill="none" stroke="#0000ff" stroke-width="1.1" stroke-linejoin="round"/>
<circle cx="451.4" cy="558.6" r="3.6" fill="#0000ff"/>
<circle cx="472.45" cy="593.03" r="3.6" fill="#0000ff"/>
<circle cx="493.5" cy="627.12" r="3.6" fill="#0000ff"/>
<circle cx="514.55" cy="655.61" r="3.6" fill="#0000ff"/>
<circle cx="535.6" cy="685.46" r="3.6" fill="#0000ff"/>
<circle cx="556.65" cy="713.44" r="3.6" fill="#0000ff"/>
<circle cx="577.7" cy="723.96" r="3.6" fill="#0000ff"/>
<circle cx="598.75" cy="723.96" r="3.6" fill="#0000ff"/>
<circle cx="619.8" cy="723.96" r="3.6" fill="#0000ff"/>
<circle cx="640.85" cy="723.11" r="3.6" fill="#0000ff"/>
<circle cx="661.9" cy="723.96" r="3.6" fill="#0000ff"/>
<polyline points="451.4,558.6 472.45,602.36 493.5,644.25 514.55,678 535.6,701.06 556.65,724.81 577.7,724.81 598.75,724.81 619.8,724.81 640.85,724.81 661.9,724.81" fill="none" stroke="#2b8a1f" stroke-width="1.1" stroke-linejoin="round"/>
<polygon points="451.4,554 455.4,561 447.4,561" fill="#2b8a1f"/>
<polygon points="472.45,597.76 476.45,604.76 468.45,604.76" fill="#2b8a1f"/>
<polygon points="493.5,639.65 497.5,646.65 489.5,646.65" fill="#2b8a1f"/>
<polygon points="514.55,673.4 518.55,680.4 510.55,680.4" fill="#2b8a1f"/>
<polygon points="535.6,696.46 539.6,703.46 531.6,703.46" fill="#2b8a1f"/>
<polygon points="556.65,720.21 560.65,727.21 552.65,727.21" fill="#2b8a1f"/>
<polygon points="577.7,720.21 581.7,727.21 573.7,727.21" fill="#2b8a1f"/>
<polygon points="598.75,720.21 602.75,727.21 594.75,727.21" fill="#2b8a1f"/>
<polygon points="619.8,720.21 623.8,727.21 615.8,727.21" fill="#2b8a1f"/>
<polygon points="640.85,720.21 644.85,727.21 636.85,727.21" fill="#2b8a1f"/>
<polygon points="661.9,720.21 665.9,727.21 657.9,727.21" fill="#2b8a1f"/>
<polyline points="451.4,558.6 472.45,645.44 493.5,672.4 514.55,695.98 535.6,713.61 556.65,725.66 577.7,725.66 598.75,725.66 619.8,725.66 640.85,725.66 661.9,725.66" fill="none" stroke="#ff0000" stroke-width="1.1" stroke-linejoin="round"/>
<polygon points="451.4,563.2 455.4,556.2 447.4,556.2" fill="#ff0000"/>
<polygon points="472.45,650.04 476.45,643.04 468.45,643.04" fill="#ff0000"/>
<polygon points="493.5,677 497.5,670 489.5,670" fill="#ff0000"/>
<polygon points="514.55,700.58 518.55,693.58 510.55,693.58" fill="#ff0000"/>
<polygon points="535.6,718.21 539.6,711.21 531.6,711.21" fill="#ff0000"/>
<polygon points="556.65,730.26 560.65,723.26 552.65,723.26" fill="#ff0000"/>
<polygon points="577.7,730.26 581.7,723.26 573.7,723.26" fill="#ff0000"/>
<polygon points="598.75,730.26 602.75,723.26 594.75,723.26" fill="#ff0000"/>
<polygon points="619.8,730.26 623.8,723.26 615.8,723.26" fill="#ff0000"/>
<polygon points="640.85,730.26 644.85,723.26 636.85,723.26" fill="#ff0000"/>
<polygon points="661.9,730.26 665.9,723.26 657.9,723.26" fill="#ff0000"/>
<polyline points="451.4,558.6 472.45,634.24 493.5,664.43 514.55,696.65 535.6,714.63 556.65,725.66 577.7,725.66 598.75,725.66 619.8,725.66 640.85,725.66 661.9,725.66" fill="none" stroke="#808080" stroke-width="1.1" stroke-linejoin="round"/>
<polygon points="451.4,554.5 455.1,558.6 451.4,562.7 447.7,558.6" fill="#808080"/>
<polygon points="472.45,630.14 476.15,634.24 472.45,638.34 468.75,634.24" fill="#808080"/>
<polygon points="493.5,660.33 497.2,664.43 493.5,668.53 489.8,664.43" fill="#808080"/>
<polygon points="514.55,692.55 518.25,696.65 514.55,700.75 510.85,696.65" fill="#808080"/>
<polygon points="535.6,710.53 539.3,714.63 535.6,718.73 531.9,714.63" fill="#808080"/>
<polygon points="556.65,721.56 560.35,725.66 556.65,729.76 552.95,725.66" fill="#808080"/>
<polygon points="577.7,721.56 581.4,725.66 577.7,729.76 574,725.66" fill="#808080"/>
<polygon points="598.75,721.56 602.45,725.66 598.75,729.76 595.05,725.66" fill="#808080"/>
<polygon points="619.8,721.56 623.5,725.66 619.8,729.76 616.1,725.66" fill="#808080"/>
<polygon points="640.85,721.56 644.55,725.66 640.85,729.76 637.15,725.66" fill="#808080"/>
<polygon points="661.9,721.56 665.6,725.66 661.9,729.76 658.2,725.66" fill="#808080"/>
<polyline points="451.4,558.6 472.45,575.56 493.5,609.14 514.55,675.62 535.6,719.38 556.65,726 577.7,726 598.75,726 619.8,726 640.85,726 661.9,726" fill="none" stroke="#c8a12a" stroke-width="1.1" stroke-linejoin="round"/>
<polygon points="447,558.6 453.6,554.7 453.6,562.5" fill="#c8a12a"/>
<polygon points="468.05,575.56 474.65,571.66 474.65,579.46" fill="#c8a12a"/>
<polygon points="489.1,609.14 495.7,605.24 495.7,613.04" fill="#c8a12a"/>
<polygon points="510.15,675.62 516.75,671.72 516.75,679.52" fill="#c8a12a"/>
<polygon points="531.2,719.38 537.8,715.48 537.8,723.28" fill="#c8a12a"/>
<polygon points="552.25,726 558.85,722.1 558.85,729.9" fill="#c8a12a"/>
<polygon points="573.3,726 579.9,722.1 579.9,729.9" fill="#c8a12a"/>
<polygon points="594.35,726 600.95,722.1 600.95,729.9" fill="#c8a12a"/>
<polygon points="615.4,726 622,722.1 622,729.9" fill="#c8a12a"/>
<polygon points="636.45,726 643.05,722.1 643.05,729.9" fill="#c8a12a"/>
<polygon points="657.5,726 664.1,722.1 664.1,729.9" fill="#c8a12a"/>
<polyline points="451.4,558.6 472.45,558.77 493.5,565.55 514.55,584.38 535.6,634.41 556.65,715.99 577.7,723.96 598.75,724.3 619.8,724.3 640.85,724.3 661.9,723.96" fill="none" stroke="#ff22ff" stroke-width="1.1" stroke-linejoin="round"/>
<polygon points="455.8,558.6 449.2,554.7 449.2,562.5" fill="#ff22ff"/>
<polygon points="476.85,558.77 470.25,554.87 470.25,562.67" fill="#ff22ff"/>
<polygon points="497.9,565.55 491.3,561.65 491.3,569.45" fill="#ff22ff"/>
<polygon points="518.95,584.38 512.35,580.48 512.35,588.28" fill="#ff22ff"/>
<polygon points="540,634.41 533.4,630.51 533.4,638.31" fill="#ff22ff"/>
<polygon points="561.05,715.99 554.45,712.09 554.45,719.89" fill="#ff22ff"/>
<polygon points="582.1,723.96 575.5,720.06 575.5,727.86" fill="#ff22ff"/>
<polygon points="603.15,724.3 596.55,720.4 596.55,728.2" fill="#ff22ff"/>
<polygon points="624.2,724.3 617.6,720.4 617.6,728.2" fill="#ff22ff"/>
<polygon points="645.25,724.3 638.65,720.4 638.65,728.2" fill="#ff22ff"/>
<polygon points="666.3,723.96 659.7,720.06 659.7,727.86" fill="#ff22ff"/>
<path d="M607 555h30.6" stroke="#000000" stroke-width="1.1"/>
<rect x="619.3" y="552" width="6" height="6" fill="#000000"/>
<text x="640.8" y="559.4" class="lg">pH 4</text>
<path d="M607 571.9h30.6" stroke="#0000ff" stroke-width="1.1"/>
<circle cx="622.3" cy="571.9" r="3.6" fill="#0000ff"/>
<text x="640.8" y="576.3" class="lg">pH 5</text>
<path d="M607 588.8h30.6" stroke="#2b8a1f" stroke-width="1.1"/>
<polygon points="622.3,584.2 626.3,591.2 618.3,591.2" fill="#2b8a1f"/>
<text x="640.8" y="593.2" class="lg">pH 6</text>
<path d="M607 605.7h30.6" stroke="#ff0000" stroke-width="1.1"/>
<polygon points="622.3,610.3 626.3,603.3 618.3,603.3" fill="#ff0000"/>
<text x="640.8" y="610.1" class="lg">pH 7</text>
<path d="M607 622.6h30.6" stroke="#808080" stroke-width="1.1"/>
<polygon points="622.3,618.5 626,622.6 622.3,626.7 618.6,622.6" fill="#808080"/>
<text x="640.8" y="627" class="lg">pH 8</text>
<path d="M607 639.5h30.6" stroke="#c8a12a" stroke-width="1.1"/>
<polygon points="617.9,639.5 624.5,635.6 624.5,643.4" fill="#c8a12a"/>
<text x="640.8" y="643.9" class="lg">pH 9</text>
<path d="M607 656.4h30.6" stroke="#ff22ff" stroke-width="1.1"/>
<polygon points="626.7,656.4 620.1,652.5 620.1,660.3" fill="#ff22ff"/>
<text x="640.8" y="660.8" class="lg">pH 10</text>
</svg>
</body></html>
